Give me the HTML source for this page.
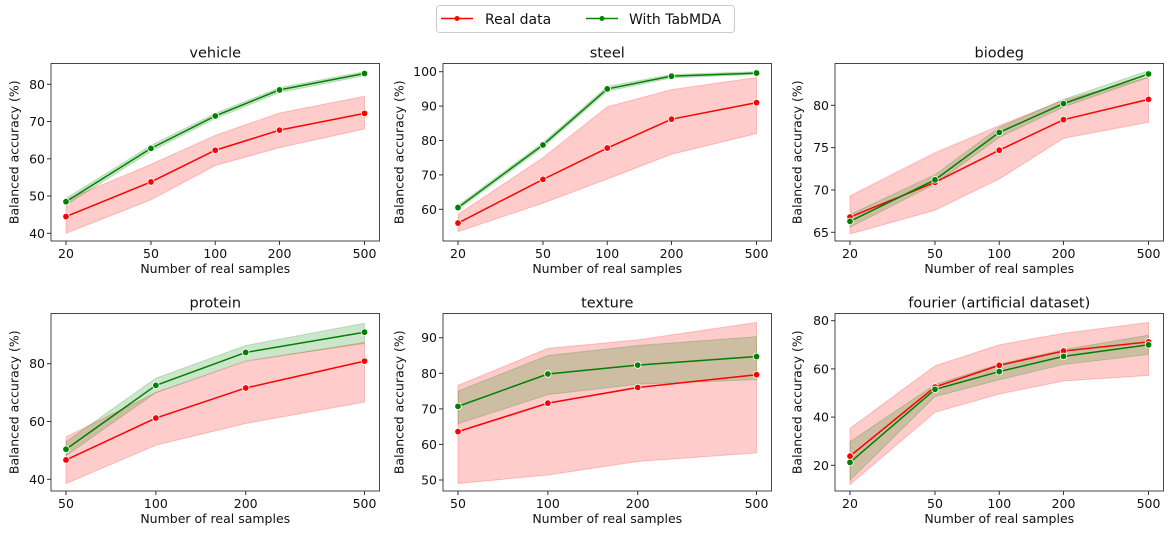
<!DOCTYPE html>
<html><head><meta charset="utf-8"><style>
html,body{margin:0;padding:0;background:#fff}
svg{display:block;font-family:"DejaVu Sans","Liberation Sans",sans-serif}
</style></head><body>
<svg id="fig" width="1172" height="539" viewBox="0 0 1172 539">
<g>
<rect x="436.5" y="5.5" width="298" height="27" rx="3" fill="#fff" stroke="#ccc"/>
<g>
<line x1="441" y1="18.5" x2="473" y2="18.5" stroke="#f00" stroke-width="1.5"/><circle cx="457" cy="18.5" r="2.5" fill="#f00"/>
<text x="485" y="24" font-size="14" fill="#111">Real data</text></g>
<g>
<line x1="586" y1="18.5" x2="618" y2="18.5" stroke="#080" stroke-width="1.5"/><circle cx="602" cy="18.5" r="2.5" fill="#080"/>
<text x="629" y="24" font-size="14" fill="#111">With TabMDA</text></g>
</g>
</svg>
<script>
const titles=["vehicle","steel","biodeg","protein","texture","fourier (artificial dataset)"];
const xs5=[20,50,100,200,500];
const xs4=[50,100,200,500];
const xcats=[xs5,xs5,xs5,xs4,xs4,xs5];
const yticks=[[40,50,60,70,80],[60,70,80,90,100],[65,70,75,80],[40,60,80],[50,60,70,80,90],[20,40,60,80]];
const realMean=[[44.5,53.8,62.3,67.7,72.2],[56,68.7,77.8,86.2,91],[66.8,70.9,74.7,78.3,80.7],[46.7,61.2,71.6,80.9],[63.6,71.6,76,79.6],[23.8,52.5,61.5,67.4,71.2]];
const realLo=[[40,49,58.2,63,68],[53.5,61.8,68.8,76,82],[64.8,67.6,71.3,76.1,78],[38.5,51.8,59.3,66.7],[49,51.4,55.2,57.6],[12,42,49.6,55,57.3]];
const realHi=[[49,58.5,66.3,72.3,76.8],[58.5,75,89.8,94.8,98.3],[69.3,74.4,77.6,80.6,83.3],[54.7,70,80.8,87.4],[76.6,87,89.4,94.3],[35.3,61.3,70,74.8,79.3]];
const tabMean=[[48.5,62.8,71.5,78.5,82.9],[60.5,78.7,95,98.7,99.6],[66.3,71.2,76.8,80.2,83.7],[50.4,72.5,83.9,90.9],[70.7,79.8,82.3,84.7],[21.2,51.5,58.9,65.2,70]];
const tabLo=[[47.6,62,70.8,77.8,82.3],[59.9,78,94.3,98.2,99.2],[65.6,70.7,76.2,79.8,83.3],[48.2,70,81,87],[65.8,74,76.9,78.2],[13.8,48.5,55.5,61.8,66]];
const tabHi=[[49.4,63.6,72.2,79.1,83.4],[61.1,79.4,95.7,99.2,100],[67.1,71.8,77.4,80.7,84.1],[53,75,86.3,94],[75,85,87.8,90.3],[29.8,53.5,62,68,74]];
const ycal=[[80,40],[100,60],[80,65],[80,40],[90,50],[80,20]];
const ypx=[[84.3,233.3],[71.7,209.3],[105.3,232.3],[363.7,479.3],[337.7,480],[320.7,465.3]];
const lefts=[51,443,835], tops=[63.5,313.5], W=328.5, H=177.5;
const ylabX=[15,400,798];
const NS="http://www.w3.org/2000/svg";
const svg=document.getElementById('fig');
function mk(tag,attrs,parent){const e=document.createElementNS(NS,tag);for(const k in attrs)e.setAttribute(k,attrs[k]);parent.appendChild(e);return e;}
for(let p=0;p<6;p++){
  const col=p%3,row=Math.floor(p/3);
  const L=lefts[col],T=tops[row],R=L+W,B=T+H;
  const cats=xcats[p];
  const x0=L+15,x1=R-15,lmin=Math.log(cats[0]),lmax=Math.log(cats[cats.length-1]);
  const xf=v=>x0+(Math.log(v)-lmin)/(lmax-lmin)*(x1-x0);
  const [v1,v2]=ycal[p],[p1,p2]=ypx[p];
  const yf=v=>p1+(v-v1)*(p2-p1)/(v2-v1);
  const g=mk('g',{},svg);
  
  
  const clip=mk('clipPath',{id:'c'+p},g);mk('rect',{x:L,y:T,width:W,height:H},clip);
  const pg=mk('g',{'clip-path':'url(#c'+p+')'},g);
  function band(lo,hi,color,name){
    let d='M'+cats.map((c,i)=>xf(c)+','+yf(hi[i])).join('L')+'L'+cats.map((c,i)=>xf(c)+','+yf(lo[i])).reverse().join('L')+'Z';
    const e=mk('path',{d:d,fill:color,'fill-opacity':0.2,stroke:color,'stroke-opacity':0.2},pg);
    
    
  }
  function line(m,color,name){
    const e=mk('polyline',{points:cats.map((c,i)=>xf(c)+','+yf(m[i])).join(' '),fill:'none',stroke:color,'stroke-width':1.5},pg);
    
    
    cats.forEach((c,i)=>{const d=mk('circle',{cx:xf(c),cy:yf(m[i]),r:3.3,fill:color,stroke:'#fff','stroke-width':0.8},pg);
      
      });
  }
  band(realLo[p],realHi[p],'#ff0000','real-ci-band');
  band(tabLo[p],tabHi[p],'#008000','tabmda-ci-band');
  line(realMean[p],'#ff0000','real');
  line(tabMean[p],'#008000','tabmda');
  mk('rect',{x:L,y:T,width:W,height:H,fill:'none',stroke:'#333','stroke-width':0.9},g);
  cats.forEach(c=>{const x=xf(c);mk('line',{x1:x,y1:B,x2:x,y2:B+4,stroke:'#333'},g);
    const t=mk('text',{x:x,y:B+17,'font-size':12.5,'text-anchor':'middle',fill:'#111'},g);t.textContent=c;
    
    });
  yticks[p].forEach(v=>{const y=yf(v);mk('line',{x1:L,y1:y,x2:L-4,y2:y,stroke:'#333'},g);
    const t=mk('text',{x:L-6,y:y+4.5,'font-size':12.5,'text-anchor':'end',fill:'#111'},g);t.textContent=v;
    
    });
  const xl=mk('text',{x:(L+R)/2,y:B+32,'font-size':12.5,'text-anchor':'middle',fill:'#111'},g);xl.textContent='Number of real samples';
  
  
  const yx=ylabX[col],yc=(T+B)/2;
  const yl=mk('text',{x:yx,y:yc,'font-size':12.5,'text-anchor':'middle',fill:'#111','dominant-baseline':'middle',transform:'rotate(-90 '+yx+' '+yc+')'},g);yl.textContent='Balanced accuracy (%)';
  
  
  const tt=mk('text',{x:(L+R)/2,y:T-6,'font-size':14.5,'text-anchor':'middle',fill:'#111'},g);tt.textContent=titles[p];
  
  
}
</script>
</body></html>
